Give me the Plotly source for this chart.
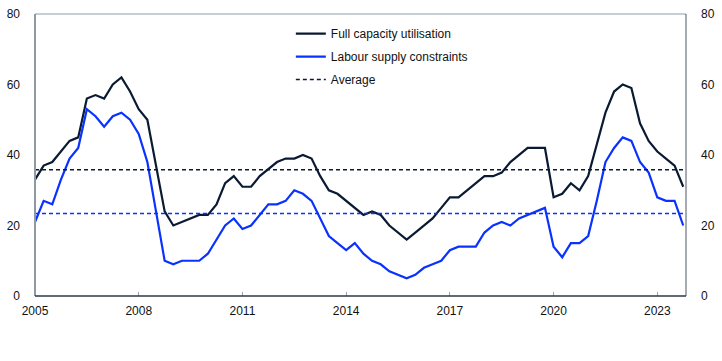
import plotly.graph_objects as go

# Quarterly observations 2005Q1 - 2023Q4
start_year = 2005
n_quarters = 76
x = [start_year + q / 4 for q in range(n_quarters)]

full_capacity = [33, 37, 38, 41, 44, 45, 56, 57, 56, 60,
                 62, 58, 53, 50, 37, 24, 20, 21, 22, 23,
                 23, 26, 32, 34, 31, 31, 34, 36, 38, 39,
                 39, 40, 39, 34, 30, 29, 27, 25, 23, 24,
                 23, 20, 18, 16, 18, 20, 22, 25, 28, 28,
                 30, 32, 34, 34, 35, 38, 40, 42, 42, 42,
                 28, 29, 32, 30, 34, 43, 52, 58, 60, 59,
                 49, 44, 41, 39, 37, 31]

labour_supply = [21, 27, 26, 33, 39, 42, 53, 51, 48, 51,
                 52, 50, 46, 38, 24, 10, 9, 10, 10, 10,
                 12, 16, 20, 22, 19, 20, 23, 26, 26, 27,
                 30, 29, 27, 22, 17, 15, 13, 15, 12, 10,
                 9, 7, 6, 5, 6, 8, 9, 10, 13, 14,
                 14, 14, 18, 20, 21, 20, 22, 23, 24, 25,
                 14, 11, 15, 15, 17, 27, 38, 42, 45, 44,
                 38, 35, 28, 27, 27, 20]

avg_full = 35.8
avg_labour = 23.4

tick_vals = [2005, 2008, 2011, 2014, 2017, 2020, 2023]
tick_text = [str(t) for t in tick_vals]
y_ticks = [0, 20, 40, 60, 80]

NAVY = "#0b1a33"
BLUE = "#0a32ff"
FONT = "Liberation Sans, Arial, sans-serif"

fig = go.Figure()
fig.add_trace(go.Scatter(x=x, y=full_capacity, mode="lines", name="Full capacity utilisation",
                         line=dict(color=NAVY, width=2.2), legendgroup="a"))
fig.add_trace(go.Scatter(x=x, y=labour_supply, mode="lines", name="Labour supply constraints",
                         line=dict(color=BLUE, width=2.2), legendgroup="b"))
fig.add_trace(go.Scatter(x=[2005, 2023.83], y=[avg_full, avg_full], mode="lines", name="Average",
                         line=dict(color=NAVY, width=1.5, dash="4px,3px"), legendgroup="c"))
fig.add_trace(go.Scatter(x=[2005, 2023.83], y=[avg_labour, avg_labour], mode="lines", name="Average labour",
                         line=dict(color=BLUE, width=1.5, dash="4px,3px"), showlegend=False))
# invisible trace to activate right axis
fig.add_trace(go.Scatter(x=[2005], y=[0], yaxis="y2", mode="lines", showlegend=False,
                         line=dict(color="rgba(0,0,0,0)"), hoverinfo="skip"))

fig.update_layout(
    width=722, height=361,
    margin=dict(l=34, r=33, t=7, b=65),
    paper_bgcolor="white", plot_bgcolor="white",
    font=dict(family=FONT, size=12, color="#111111"),
    showlegend=True,
    legend=dict(x=0.393, y=0.982, xanchor="left", yanchor="top",
                bgcolor="rgba(0,0,0,0)", font=dict(size=12, color="#111111"),
                tracegroupgap=4, itemwidth=30),
    xaxis=dict(range=[2005, 2023.83], tickvals=tick_vals, ticktext=tick_text,
               showgrid=False, zeroline=False, showline=False,
               ticks="inside", ticklen=4, tickcolor="#9aa3ad", tickwidth=1,
               ticklabelstandoff=6, tickfont=dict(size=12)),
    yaxis=dict(range=[0, 80], tickvals=y_ticks, showgrid=False, zeroline=False,
               showline=False, ticks="", ticklabelstandoff=14, tickfont=dict(size=12)),
    yaxis2=dict(range=[0, 80], tickvals=y_ticks, overlaying="y", side="right",
                showgrid=False, zeroline=False, showline=False, ticks="",
                ticklabelstandoff=14, tickfont=dict(size=12)),
    shapes=[
        dict(type="line", xref="paper", yref="paper", x0=0, x1=1, y0=1, y1=1,
             line=dict(color="#c6cdd4", width=2)),
        dict(type="line", xref="paper", yref="paper", x0=0, x1=0, y0=0, y1=1,
             line=dict(color="#8f99a4", width=2)),
        dict(type="line", xref="paper", yref="paper", x0=1, x1=1, y0=0, y1=1,
             line=dict(color="#4a5663", width=1)),
        dict(type="line", xref="paper", yref="paper", x0=0, x1=1, y0=0, y1=0,
             line=dict(color="#2b3847", width=1.5)),
    ],
)

fig.write_html("out.html")
